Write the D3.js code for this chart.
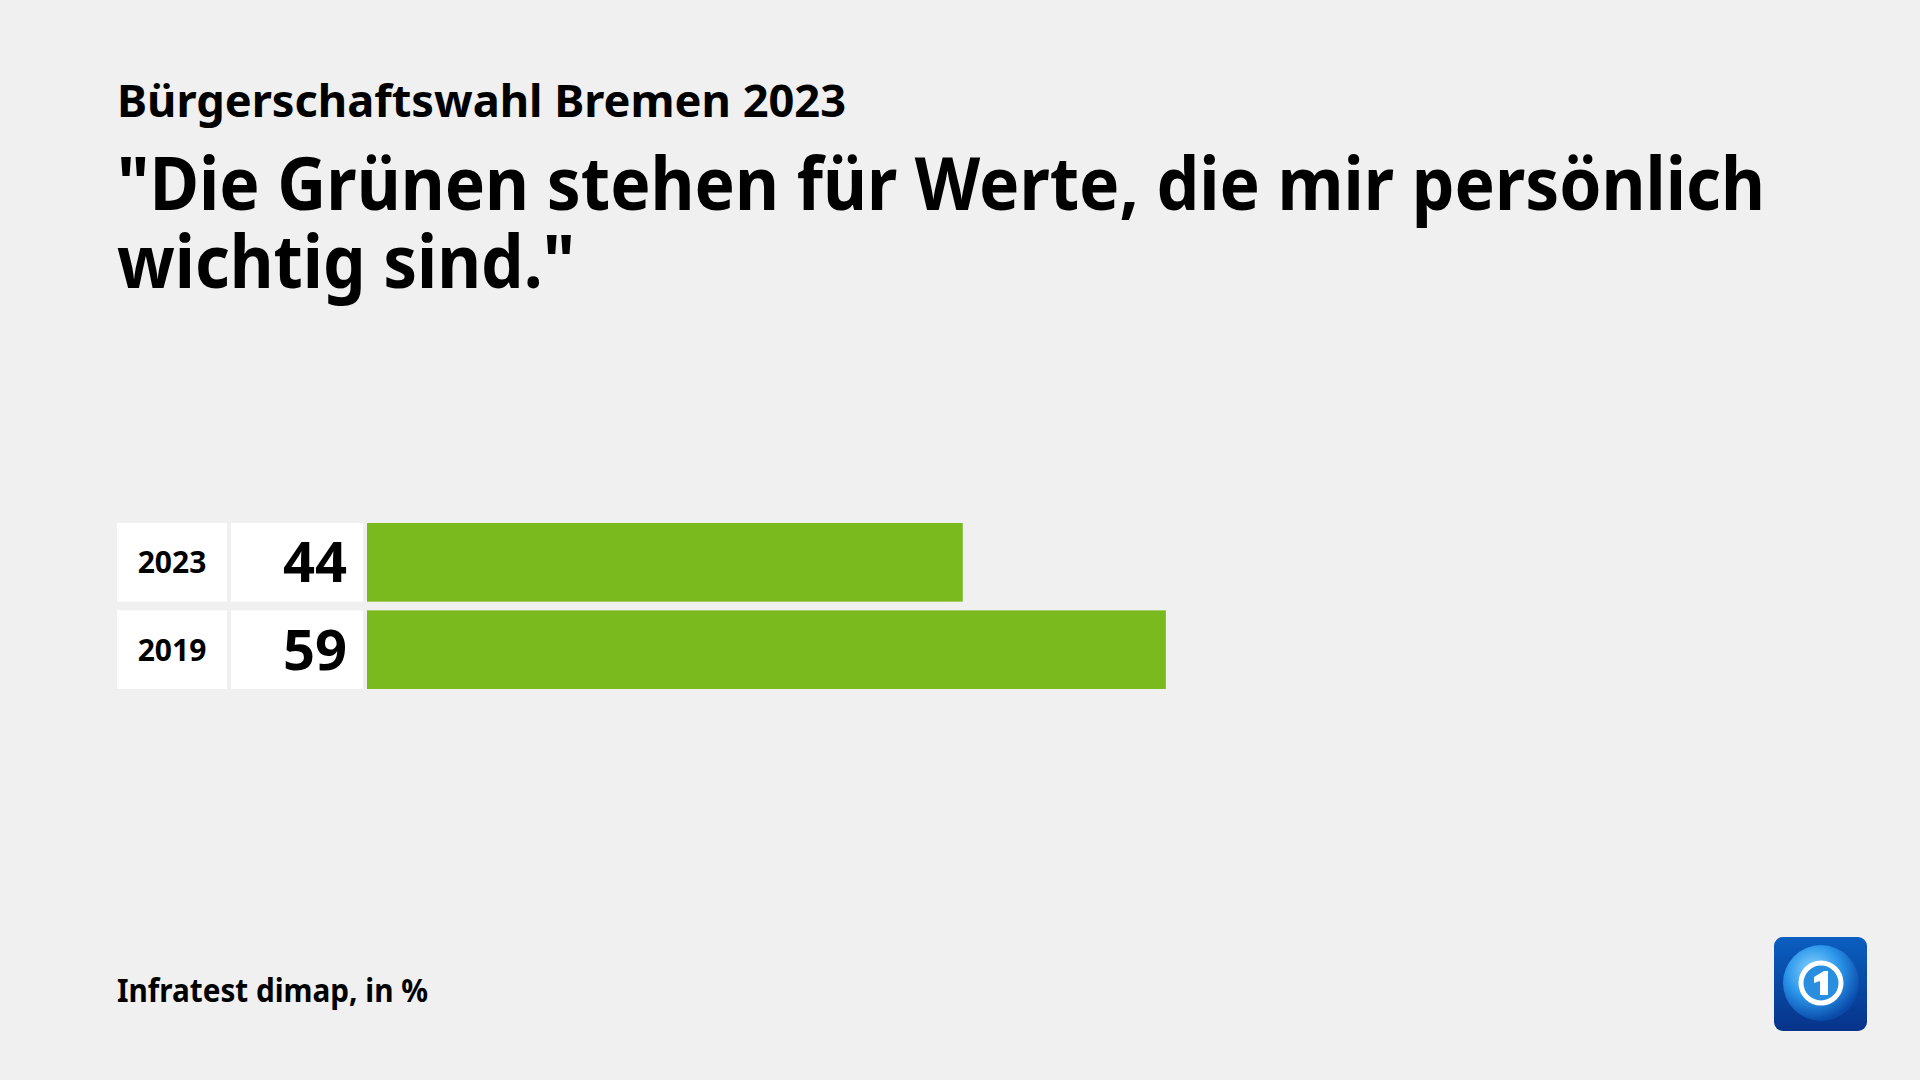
<!DOCTYPE html>
<html>
<head>
<meta charset="utf-8">
<script src="https://cdn.jsdelivr.net/npm/d3@7"></script>
<style>
html,body{margin:0;padding:0;background:#f0f0f0;}
svg{display:block;font-family:"Noto Sans",sans-serif;}
</style>
</head>
<body>
<svg id="chart" width="1920" height="1080"></svg>
<script>
const categories = ["2023", "2019"];
const values = [44, 59];
const subtitle = "Bürgerschaftswahl Bremen 2023";
const titleLines = ["\"Die Grünen stehen für Werte, die mir persönlich", "wichtig sind.\""];
const source = "Infratest dimap, in %";

const svg = d3.select("#chart");
svg.append("rect").attr("width", 1920).attr("height", 1080).attr("fill", "#f0f0f0");

// headings
svg.append("text").attr("x", 117).attr("y", 117)
  .attr("font-size", 45).attr("font-weight", 700).attr("fill", "#000")
  .attr("textLength", 729).attr("lengthAdjust", "spacingAndGlyphs")
  .text(subtitle);
const tl = [1648, 458];
const title = svg.append("text").attr("font-size", 74).attr("font-weight", 700).attr("fill", "#000");
titleLines.forEach((t, i) => {
  title.append("tspan").attr("x", 117).attr("y", 210 + i * 78)
    .attr("textLength", tl[i]).attr("lengthAdjust", "spacingAndGlyphs")
    .text(t);
});

// scales
const x = d3.scaleLinear().domain([0, 100]).range([367, 1721]);
const y = d3.scaleBand().domain(categories).range([523, 689]).paddingInner(0.1);

const data = categories.map((c, i) => ({cat: c, val: values[i]}));
const rows = svg.selectAll("g.row").data(data).enter().append("g").attr("class", "row");

rows.append("rect").attr("x", 117).attr("width", 110)
  .attr("y", d => y(d.cat)).attr("height", y.bandwidth()).attr("fill", "#ffffff");
rows.append("rect").attr("x", 231).attr("width", 132)
  .attr("y", d => y(d.cat)).attr("height", y.bandwidth()).attr("fill", "#ffffff");
rows.append("rect").attr("x", x(0))
  .attr("width", d => x(d.val) - x(0))
  .attr("y", d => y(d.cat)).attr("height", y.bandwidth()).attr("fill", "#7aba1e");

rows.append("text").attr("x", 172)
  .attr("y", d => y(d.cat) + y.bandwidth() / 2 + 11)
  .attr("text-anchor", "middle").attr("font-size", 30).attr("font-weight", 700)
  .attr("fill", "#000").text(d => d.cat);
rows.append("text").attr("x", 347)
  .attr("y", d => y(d.cat) + y.bandwidth() / 2 + 20)
  .attr("text-anchor", "end").attr("font-size", 56).attr("font-weight", 700)
  .attr("fill", "#000").text(d => d.val);

// source
svg.append("text").attr("x", 117).attr("y", 1002)
  .attr("font-size", 33).attr("font-weight", 700).attr("fill", "#000")
  .attr("textLength", 311).attr("lengthAdjust", "spacingAndGlyphs")
  .text(source);

// logo
const defs = svg.append("defs");
const g1 = defs.append("linearGradient").attr("id", "bg").attr("x1", 0).attr("y1", 0).attr("x2", 0).attr("y2", 1);
g1.append("stop").attr("offset", "0%").attr("stop-color", "#0a5fc0");
g1.append("stop").attr("offset", "100%").attr("stop-color", "#07338a");
const g2 = defs.append("radialGradient").attr("id", "globe").attr("cx", "40%").attr("cy", "35%").attr("r", "65%");
g2.append("stop").attr("offset", "0%").attr("stop-color", "#8fd8ff");
g2.append("stop").attr("offset", "55%").attr("stop-color", "#2a95ea");
g2.append("stop").attr("offset", "100%").attr("stop-color", "#0a4aa8");
const logo = svg.append("g").attr("transform", "translate(1774,937)");
logo.append("rect").attr("width", 93).attr("height", 94).attr("rx", 9).attr("fill", "url(#bg)");
logo.append("circle").attr("cx", 47).attr("cy", 46).attr("r", 38).attr("fill", "url(#globe)");
logo.append("circle").attr("cx", 47).attr("cy", 46).attr("r", 20).attr("fill", "#2a8ee0")
  .attr("stroke", "#ffffff").attr("stroke-width", 5);
logo.append("path").attr("d", "M40,40 L50,34 L54,34 L54,58 L46,58 L46,44 L40,46 Z").attr("fill", "#ffffff");
</script>
</body>
</html>
